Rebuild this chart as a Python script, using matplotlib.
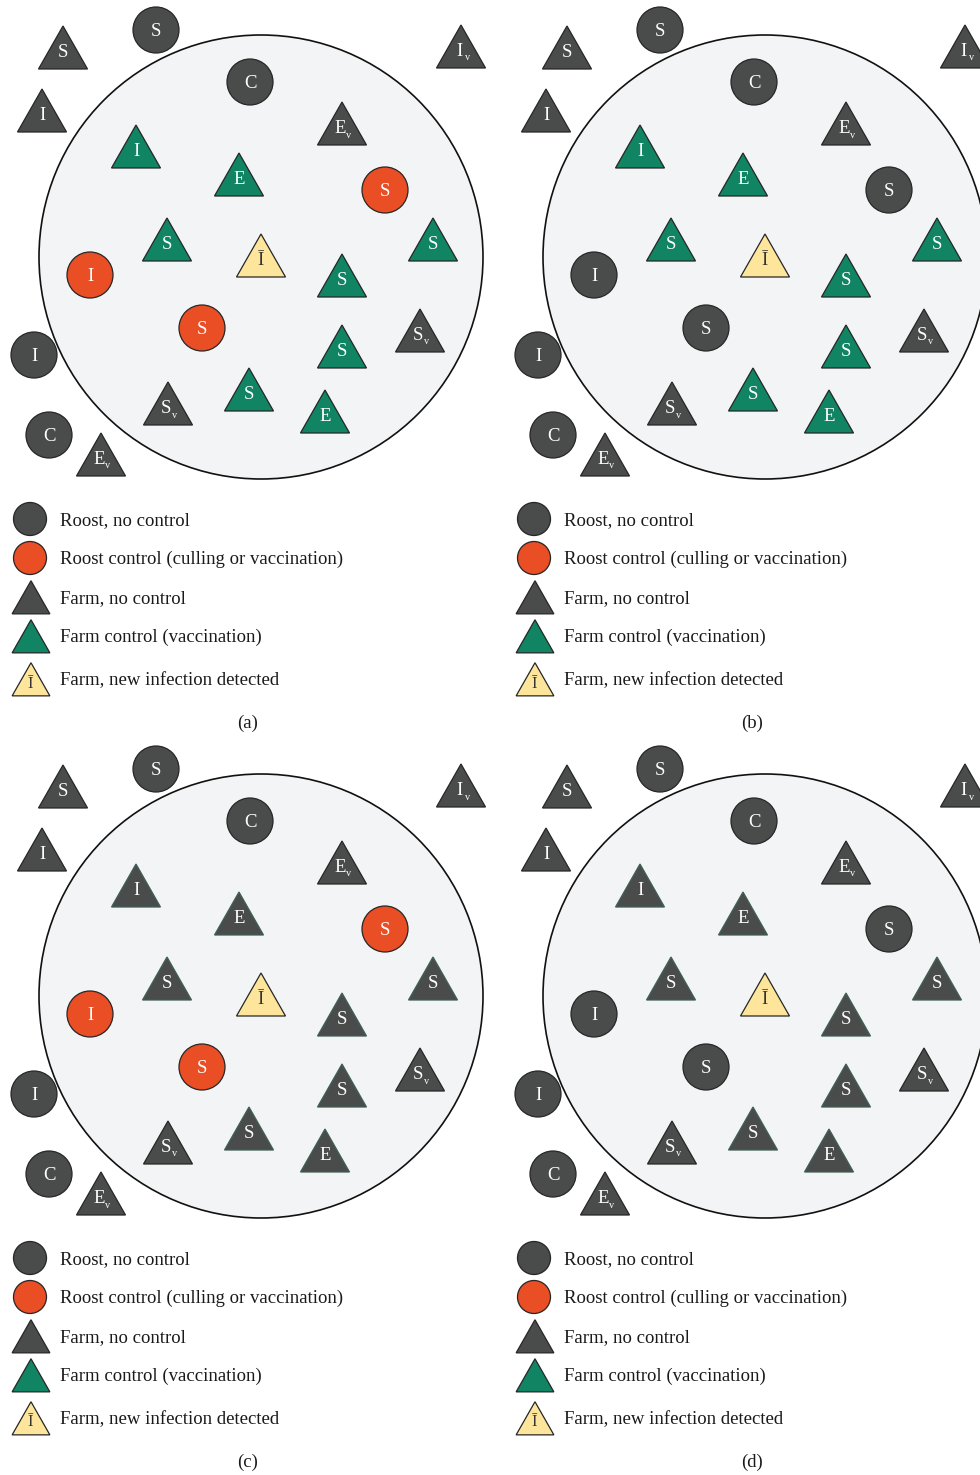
"""Roost / farm control scenarios drawn as four schematic panels."""

import matplotlib
matplotlib.use("Agg")
import matplotlib.pyplot as plt
from matplotlib.patches import Circle, Polygon

plt.rcParams['font.family'] = ['Liberation Serif', 'DejaVu Serif']

W, H = 980, 1475

DARK = '#4a4c4b'
GREEN = '#108463'
ORANGE = '#e94e24'
YELLOW = '#fde59b'
AREA = '#f3f4f6'
EDGE = '#262626'

# roosts: label, position, can be controlled
ROOST_LABELS = ['S', 'C', 'S', 'I', 'S', 'I', 'C']
ROOST_XY = [(156, 30), (250, 82), (385, 190), (90, 275), (202, 328), (34, 355), (49, 435)]
ROOST_CONTROLLED = [False, False, True, True, True, False, False]

# farms: label, subscript, position, status ('n' none, 'c' vaccinated, 'd' detected)
FARM_LABELS = ['S', 'I', 'I', 'I', 'E', 'E', 'S', 'Ī', 'S', 'S', 'S', 'S', 'S', 'E', 'S', 'E']
FARM_SUB = ['', '', 'v', '', '', 'v', '', '', '', '', 'v', '', '', '', 'v', 'v']
FARM_XY = [(63, 51), (42, 114), (461, 50), (136, 150), (239, 178), (342, 127),
           (167, 243), (261, 259), (433, 243), (342, 279), (420, 334), (342, 350),
           (249, 393), (325, 415), (168, 407), (101, 458)]
FARM_STATUS = ['n', 'n', 'n', 'c', 'c', 'n', 'c', 'd', 'c', 'c', 'n', 'c', 'c', 'c', 'n', 'n']

# panel tag, x/y offset, roost control on, farm control on
PANELS = ['(a)', '(b)', '(c)', '(d)']
PANEL_OFFSET = [(0, 0), (504, 0), (0, 739), (504, 739)]
ROOST_CONTROL_ON = [True, False, True, False]
FARM_CONTROL_ON = [True, True, False, False]

LEGEND_TEXT = ['Roost, no control', 'Roost control (culling or vaccination)',
               'Farm, no control', 'Farm control (vaccination)',
               'Farm, new infection detected']
LEGEND_Y = [519, 558, 597, 636, 679]

FS = 13.5


def triangle(ax, x, y, color, scale=1.0, label='', sub='', txt='white', fs=FS, ec=EDGE):
    up, down, half = 25 * scale, 18 * scale, 24.5 * scale
    tri = Polygon([(x, y - up), (x - half, y + down), (x + half, y + down)],
                  closed=True, fc=color, ec=ec, lw=0.9, zorder=3)
    ax.add_patch(tri)
    put_label(ax, x, y, label, sub, txt, fs)


def roost(ax, x, y, color, r=23, label=''):
    ax.add_patch(Circle((x, y), r, fc=color, ec=EDGE, lw=0.9, zorder=3))
    put_label(ax, x, y, label, '', 'white', FS)


def put_label(ax, x, y, label, sub, color, fs):
    if not label:
        return
    if sub:
        ax.text(x - 2, y + 1.5, label, color=color, fontsize=fs, ha='center', va='center', zorder=4)
        ax.text(x + 4, y + 8, sub, color=color, fontsize=fs * 0.55, ha='left', va='center', zorder=4)
    else:
        ax.text(x, y + 1.5, label, color=color, fontsize=fs, ha='center', va='center', zorder=4)


fig = plt.figure(figsize=(W / 100, H / 100), dpi=100)
ax = fig.add_axes([0, 0, 1, 1])
ax.set_xlim(0, W)
ax.set_ylim(H, 0)
ax.set_axis_off()

for tag, (dx, dy), r_on, f_on in zip(PANELS, PANEL_OFFSET, ROOST_CONTROL_ON, FARM_CONTROL_ON):
    # control area
    ax.add_patch(Circle((261 + dx, 257 + dy), 222, fc=AREA, ec='#111111', lw=1.2, zorder=1))

    for lab, (x, y), ctl in zip(ROOST_LABELS, ROOST_XY, ROOST_CONTROLLED):
        color = ORANGE if (ctl and r_on) else DARK
        roost(ax, x + dx, y + dy, color, label=lab)

    for lab, sub, (x, y), st in zip(FARM_LABELS, FARM_SUB, FARM_XY, FARM_STATUS):
        if st == 'd':
            triangle(ax, x + dx, y + dy, YELLOW, label=lab, txt='#333333')
        elif st == 'c' and f_on:
            triangle(ax, x + dx, y + dy, GREEN, label=lab)
        elif st == 'c':
            # vaccination lifted: dark fill, faint green rim left over
            triangle(ax, x + dx, y + dy, DARK, label=lab, ec='#3f5f55')
        else:
            triangle(ax, x + dx, y + dy, DARK, label=lab, sub=sub)

    # legend
    roost(ax, 30 + dx, LEGEND_Y[0] + dy, DARK, r=16.5)
    roost(ax, 30 + dx, LEGEND_Y[1] + dy, ORANGE, r=16.5)
    triangle(ax, 31 + dx, LEGEND_Y[2] + 3 + dy, DARK, scale=0.77)
    triangle(ax, 31 + dx, LEGEND_Y[3] + 3 + dy, GREEN, scale=0.77)
    triangle(ax, 31 + dx, LEGEND_Y[4] + 3 + dy, YELLOW, scale=0.77, label='Ī',
             txt='#333333', fs=12)
    for txt, y in zip(LEGEND_TEXT, LEGEND_Y):
        ax.text(60 + dx, y + 1.5 + dy, txt, fontsize=FS, color='#1a1a1a', ha='left', va='center')

    ax.text(248 + dx, 723 + dy, tag, fontsize=FS, color='#1a1a1a', ha='center', va='center')

fig.savefig('out.png', dpi=100)
